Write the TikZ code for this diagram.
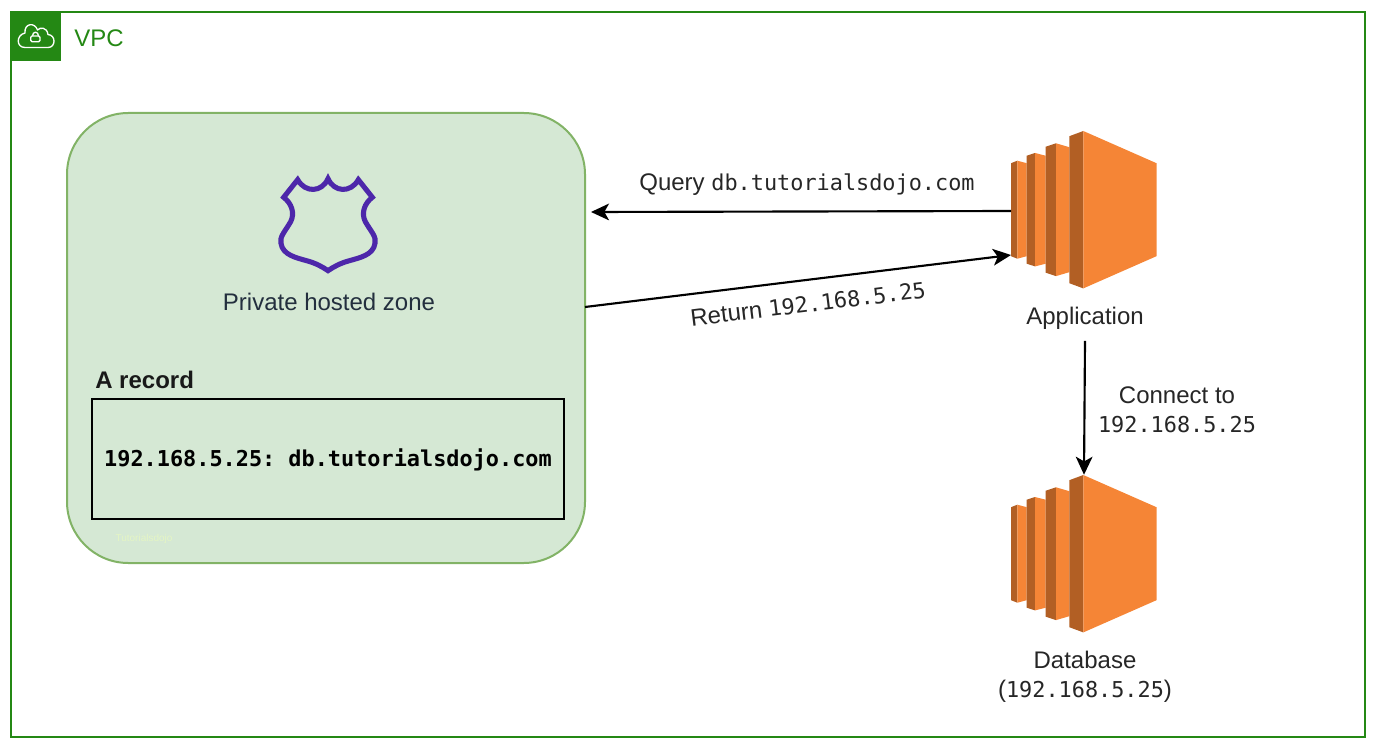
\documentclass[tikz,border=0pt]{standalone}
\usepackage{fontspec}
\setmainfont{Liberation Sans}
\setmonofont[Scale=0.911]{DejaVu Sans Mono}
\usetikzlibrary{arrows.meta}

\definecolor{vpcgreen}{HTML}{248814}
\definecolor{zonefill}{HTML}{D5E8D4}
\definecolor{zoneline}{HTML}{82B366}
\definecolor{shieldcol}{HTML}{4D27AA}
\definecolor{ecclight}{HTML}{F58536}
\definecolor{eccdark}{HTML}{B25F24}
\definecolor{labelcol}{HTML}{232F3E}
\definecolor{markcol}{HTML}{E4F5C4}

\tikzset{
	textlabel/.style={font=\fontsize{18}{22}\selectfont, text=black!85, align=center},
	flow/.style={-{Stealth[length=13.5pt,width=12.5pt,inset=3.5pt]}, line width=1.6pt},
	iconbox/.style={minimum width=109.5pt, minimum height=118pt, inner sep=0pt}
}

% one server stack, anchored at the middle of its left side
\newcommand{\eccicon}[2]{
	\begin{scope}[shift={(#1,#2)}]
		\foreach \xa/\xb/\xc/\ha/\hb/\hc in {0/6.3/15.7/46.5/49/46.5, 15.7/24/34.7/54/56.7/54, 34.7/45/58.3/63/66.4/62.5, 58.3/72.3/145.7/73.5/78.7/46.4} {
			\fill[eccdark] (\xa,-\ha) -- (\xb,-\hb) -- (\xb,\hb) -- (\xa,\ha) -- cycle;
			\fill[ecclight] (\xb,-\hb) -- (\xc,-\hc) -- (\xc,\hc) -- (\xb,\hb) -- cycle;
		}
	\end{scope}
}

\begin{document}
\begin{tikzpicture}[x=0.75pt,y=-0.75pt]
	\useasboundingbox (0,0) rectangle (1376,748);

	% vpc frame
	\node[draw=vpcgreen, line width=1.5pt, minimum width=1015.5pt, minimum height=544pt, inner sep=0pt] (vpc) at (688,374.5) {};
	\node[fill=vpcgreen, minimum size=37pt, inner sep=0pt] (vpcicon) at (36.5,36.5) {};
	\node[anchor=west, text=vpcgreen, font=\fontsize{18}{20}\selectfont, inner sep=0pt] (vpclabel) at (74,38) {VPC};
	\draw[white, line width=1pt, line join=round] (25,47.5) -- (48,47.5) .. controls (56,47.5) and (56,35) .. (48,34.5) .. controls (47,27) and (40,27) .. (37.5,30) .. controls (35,22) and (24,23) .. (25,33) .. controls (16,35) and (16,47.5) .. (25,47.5) -- cycle;
	\draw[white, line width=1pt, rounded corners=1pt] (30.7,36) rectangle (40,41.7);
	\draw[white, line width=1pt] (32.5,36) .. controls (32.5,31) and (38.5,31) .. (38.5,36);

	% hosted zone
	\node[draw=zoneline, fill=zonefill, line width=1.5pt, rounded corners=46pt, minimum width=388.5pt, minimum height=337.5pt, inner sep=0pt] (zone) at (326,338) {};
	\begin{scope}[shift={(260,165)},x=0.25pt,y=-0.25pt]
		\draw[shieldcol, line width=3.8pt, line join=miter] (204,41) .. controls (222,82) and (272,85) .. (295,44) -- (337,97) .. controls (313,115) and (303,145) .. (316,170) .. controls (333,200) and (350,215) .. (345,235) .. controls (340,270) and (300,278) .. (265,288) .. controls (240,295) and (220,306) .. (204,317) .. controls (188,306) and (168,295) .. (143,288) .. controls (108,278) and (68,270) .. (63,235) .. controls (58,215) and (75,200) .. (92,170) .. controls (105,145) and (95,115) .. (71,97) -- (113,44) .. controls (136,85) and (186,82) .. (204,41) -- cycle;
	\end{scope}
	\node[text=labelcol, font=\fontsize{18}{20}\selectfont, inner sep=0pt] (zonelabel) at (329,302) {Private hosted zone};
	\node[anchor=west, font=\bfseries\fontsize{18}{20}\selectfont, text=black!90, inner sep=0pt] (recordlabel) at (95,380) {A record};
	\node[draw=black, line width=1.5pt, minimum width=354pt, minimum height=90pt, inner sep=0pt, text height=14pt, text depth=3pt, font=\ttfamily\bfseries\fontsize{18}{20}\selectfont] (record) at (328,459) {192.168.5.25: db.tutorialsdojo.com};
	\node[text=markcol, font=\fontsize{7.5}{8}\selectfont, inner sep=0pt] (mark) at (144,539) {Tutorialsdojo};

	% servers
	\eccicon{1011}{209.7}
	\node[iconbox] (appicon) at (1084,209.7) {};
	\node[textlabel] (applabel) at (1085,318) {Application};
	\eccicon{1011}{553.7}
	\node[iconbox] (dbicon) at (1084,553.7) {};
	\node[textlabel] (dblabel) at (1085,676.5) {Database\\(\texttt{192.168.5.25})};

	% connectors
	\coordinate (appout) at (1011,211);
	\coordinate (zonein) at (591,212);
	\coordinate (zoneout) at (585,307);
	\coordinate (appin) at (1011,255);
	\draw[flow] (appout) -- (zonein);
	\draw[flow] (zoneout) -- (appin);
	\draw[flow] (applabel.south) ++(0,7) -- (dbicon.north);

	\node[textlabel] (querylabel) at (807,185) {Query \texttt{db.tutorialsdojo.com}};
	\node[textlabel, rotate=7] (returnlabel) at (808,304) {Return \texttt{192.168.5.25}};
	\node[textlabel] (connectlabel) at (1177,409.5) {Connect to\\\texttt{192.168.5.25}};
\end{tikzpicture}
\end{document}
